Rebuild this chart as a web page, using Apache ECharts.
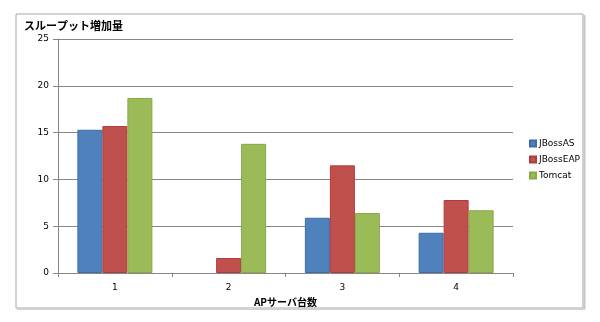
<!DOCTYPE html>
<html>
<head>
<meta charset="utf-8">
<script src="https://cdn.jsdelivr.net/npm/echarts@6/dist/echarts.min.js"></script>
<style>
html,body{margin:0;padding:0;background:#fff;}
#c{width:600px;height:322px;}
</style>
</head>
<body>
<div id="c"></div>
<script>
const categories = ['1', '2', '3', '4'];
const jbossAS = [15.3, 0, 5.9, 4.3];
const jbossEAP = [15.7, 1.6, 11.5, 7.8];
const tomcat = [18.7, 13.8, 6.4, 6.7];
const yTicks = [0, 5, 10, 15, 20, 25];
const seriesNames = ['JBossAS', 'JBossEAP', 'Tomcat'];
const titleText = 'スループット増加量';
const xName = 'APサーバ台数';

const chart = echarts.init(document.getElementById('c'), null, {renderer: 'canvas'});
const lab = {fontFamily: 'DejaVu Sans, sans-serif', fontSize: 9, color: '#000'};
function bar(name, data, color, border) {
  return {
    name: name, type: 'bar', barWidth: 25, barGap: '0%',
    data: data.map(function (v) { return v === 0 ? {value: v, itemStyle: {borderWidth: 0}} : v; }),
    itemStyle: {color: color, borderColor: border, borderWidth: 1}
  };
}
chart.setOption({
  animation: false,
  backgroundColor: '#fff',
  graphic: [
    {type: 'rect', shape: {x: 16, y: 14, width: 567, height: 294},
     style: {fill: 'none', stroke: '#a6a6a6', lineWidth: 1}},
    {type: 'line', shape: {x1: 584.5, y1: 15, x2: 584.5, y2: 309},
     style: {stroke: '#c8c8c8', lineWidth: 2}},
    {type: 'line', shape: {x1: 17, y1: 309.5, x2: 585, y2: 309.5},
     style: {stroke: '#d0d0d0', lineWidth: 1}}
  ],
  title: {
    text: titleText, left: 19, top: 15,
    textStyle: {fontFamily: 'Noto Sans CJK JP', fontSize: 11, fontWeight: 'bold', color: '#000'}
  },
  legend: {
    data: seriesNames, orient: 'vertical', left: 524, top: 134,
    itemWidth: 6, itemHeight: 6, itemGap: 7, icon: 'rect',
    textStyle: {fontFamily: 'DejaVu Sans, sans-serif', fontSize: 9, color: '#000', padding: [0, 0, 0, -2]}
  },
  grid: {left: 58, right: 87, top: 39, bottom: 49},
  xAxis: {
    type: 'category', data: categories,
    name: xName, nameLocation: 'middle', nameGap: 20,
    nameTextStyle: {fontFamily: 'Noto Sans CJK JP', fontSize: 10, fontWeight: 'bold', color: '#000'},
    axisLine: {lineStyle: {color: '#868686'}},
    axisTick: {show: true, length: 4, lineStyle: {color: '#868686'}},
    axisLabel: Object.assign({margin: 10}, lab)
  },
  yAxis: {
    type: 'value', min: 0, max: 25, interval: 5,
    axisLine: {show: true, lineStyle: {color: '#868686'}},
    axisTick: {show: true, length: 5, lineStyle: {color: '#868686'}},
    axisLabel: Object.assign({margin: 9, formatter: function (v) { return yTicks.indexOf(v) >= 0 ? String(v) : ''; }}, lab),
    splitLine: {lineStyle: {color: '#868686'}}
  },
  series: [
    bar(seriesNames[0], jbossAS, '#4F81BD', '#3C6DAA'),
    bar(seriesNames[1], jbossEAP, '#C0504D', '#B03C39'),
    bar(seriesNames[2], tomcat, '#9BBB59', '#87A944')
  ]
});
</script>
</body>
</html>
